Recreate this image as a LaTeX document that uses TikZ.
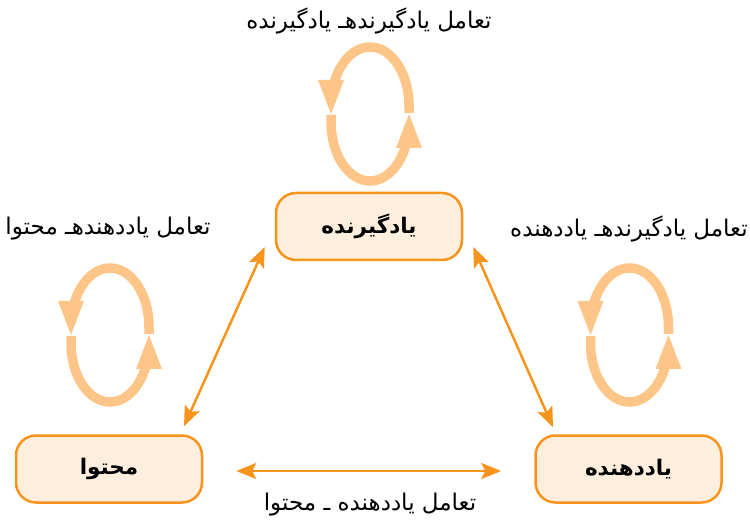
\documentclass[tikz,border=0pt]{standalone}
\usepackage{fontspec}
\usetikzlibrary{arrows.meta}
\TeXXeTstate=1
\newfontfamily\arabicfont[Script=Arabic]{DejaVu Sans}
\definecolor{orangeline}{HTML}{F7941D}
\definecolor{boxfill}{HTML}{FDEEDE}
\definecolor{loopcol}{HTML}{FDC688}
\tikzset{
  box/.style={draw=orangeline, line width=2.5pt, fill=boxfill, rounded corners=20pt,
    minimum width=186pt, minimum height=67pt, inner sep=0pt,
    font=\arabicfont\bfseries\fontsize{21.5}{26}\selectfont},
  lbl/.style={inner sep=0pt, font=\arabicfont\fontsize{23}{28}\selectfont},
  biarrow/.style={draw=orangeline, line width=2.5pt,
    {Stealth[length=20pt,width=16pt,inset=4pt]}-{Stealth[length=20pt,width=16pt,inset=4pt]}},
  loopline/.style={draw=loopcol, line width=9.5pt},
  loophead/.style={fill=loopcol}
}
\begin{document}
\begin{tikzpicture}[x=1pt,y=-1pt]
\useasboundingbox (0,0) rectangle (750,521);
% boxes
\node[box] (learner) at (369,226.5) {\beginR یادگیرنده\endR};
\node[box] (content) at (109,469) {\beginR محتوا\endR};
\node[box] (teacher) at (628.5,469) {\beginR یاددهنده\endR};
% labels
\node[lbl] (ltop) at (369,21) {\beginR تعامل یادگیرندهـ یادگیرنده\endR};
\node[lbl] (lleft) at (108,229) {\beginR تعامل یاددهندهـ محتوا\endR};
\node[lbl] (lright) at (629,229) {\beginR تعامل یادگیرندهـ یاددهنده\endR};
\node[lbl] (lbottom) at (370,505) {\beginR تعامل یاددهنده ـ محتوا\endR};
% connectors
\draw[biarrow] ([xshift=75pt,yshift=8pt]content.north) -- ([xshift=-10pt,yshift=-20.5pt]learner.west);
\draw[biarrow] ([xshift=10pt,yshift=-20.5pt]learner.east) -- ([xshift=-75.5pt,yshift=7pt]teacher.north);
\draw[biarrow] ([xshift=33pt,yshift=-2pt]content.east) -- ([xshift=-33pt,yshift=-2pt]teacher.west);
% cycle loops
\foreach \cx/\cy in {370/114, 110/335, 629.5/335} {
  \draw[loopline] (\cx+39,\cy-1) -- (\cx+39,\cy-8)
     arc[start angle=0,end angle=-176,x radius=39,y radius=59];
  \fill[loophead] (\cx-52,\cy-34) -- (\cx-26,\cy-34) -- (\cx-39,\cy) -- cycle;
  \draw[loopline] (\cx-39,\cy+1) -- (\cx-39,\cy+8)
     arc[start angle=180,end angle=4,x radius=39,y radius=59];
  \fill[loophead] (\cx+26,\cy+34) -- (\cx+52,\cy+34) -- (\cx+39,\cy) -- cycle;
}
\end{tikzpicture}
\end{document}
